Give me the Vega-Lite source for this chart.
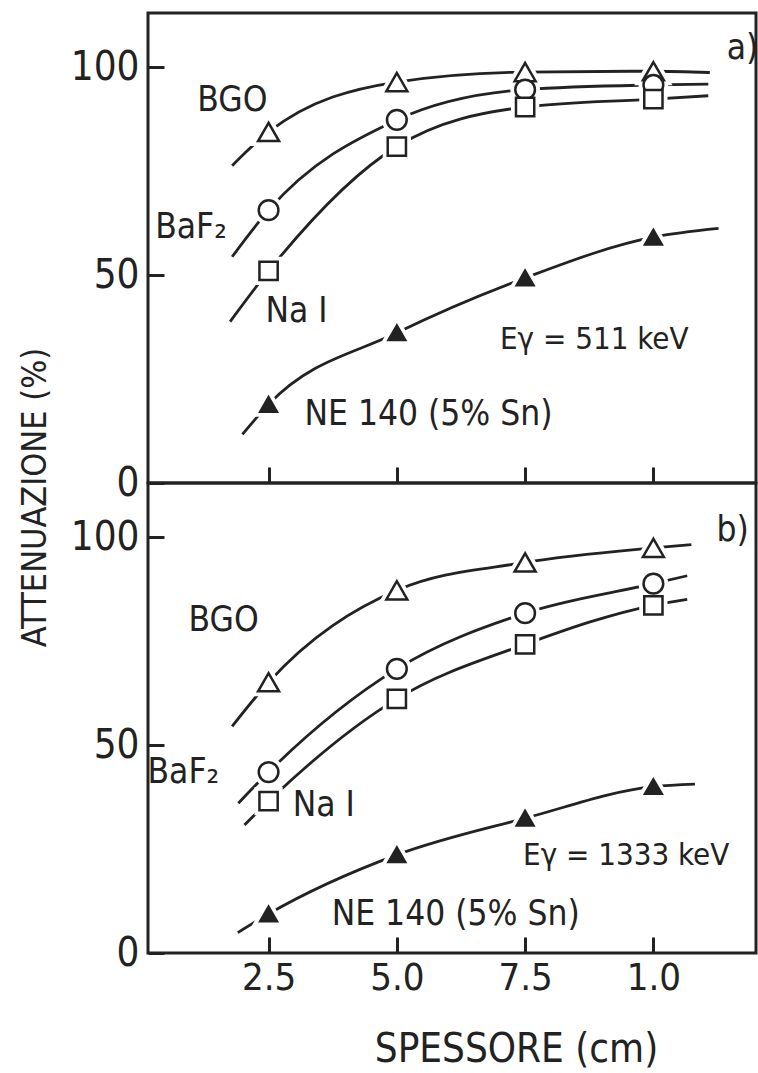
{
  "$schema": "https://vega.github.io/schema/vega-lite/v6.json",
  "padding": {"left": 16, "top": 11, "right": 3, "bottom": 0},
  "background": "white",
  "bounds": "flush",
  "spacing": 0,
  "config": {
    "font": "DejaVu Sans Condensed, DejaVu Sans, sans-serif",
    "view": {"stroke": "#222", "strokeWidth": 3},
    "axis": {
      "domain": false,
      "grid": false,
      "tickColor": "#222",
      "tickWidth": 3,
      "tickSize": -16,
      "labelFont": "DejaVu Sans Condensed, DejaVu Sans, sans-serif",
      "labelFontSize": 40,
      "labelColor": "#222",
      "titleFont": "DejaVu Sans Condensed, DejaVu Sans, sans-serif",
      "titleFontSize": 34,
      "titleFontWeight": "normal",
      "titleColor": "#222"
    },
    "text": {"font": "DejaVu Sans Condensed, DejaVu Sans, sans-serif", "fontSize": 35, "color": "#222"}
  },
  "datasets": {
    "curves": [
      {"panel": "a", "series": "BGO", "x": 1.79, "y": 76.3},
      {"panel": "a", "series": "BGO", "x": 2.5, "y": 84.4},
      {"panel": "a", "series": "BGO", "x": 5.0, "y": 96.4},
      {"panel": "a", "series": "BGO", "x": 7.5, "y": 98.8},
      {"panel": "a", "series": "BGO", "x": 10.0, "y": 99.0},
      {"panel": "a", "series": "BGO", "x": 11.1, "y": 98.7},
      {"panel": "a", "series": "BaF2", "x": 1.79, "y": 54.4},
      {"panel": "a", "series": "BaF2", "x": 2.5, "y": 65.6},
      {"panel": "a", "series": "BaF2", "x": 5.0, "y": 87.3},
      {"panel": "a", "series": "BaF2", "x": 7.5, "y": 94.6},
      {"panel": "a", "series": "BaF2", "x": 10.0, "y": 95.7},
      {"panel": "a", "series": "BaF2", "x": 11.07, "y": 95.9},
      {"panel": "a", "series": "NaI", "x": 1.75, "y": 38.8},
      {"panel": "a", "series": "NaI", "x": 2.5, "y": 51.0},
      {"panel": "a", "series": "NaI", "x": 5.0, "y": 80.9},
      {"panel": "a", "series": "NaI", "x": 7.5, "y": 90.4},
      {"panel": "a", "series": "NaI", "x": 10.0, "y": 92.3},
      {"panel": "a", "series": "NaI", "x": 11.07, "y": 93.1},
      {"panel": "a", "series": "NE140", "x": 1.99, "y": 11.7},
      {"panel": "a", "series": "NE140", "x": 2.5, "y": 18.9},
      {"panel": "a", "series": "NE140", "x": 5.0, "y": 36.1},
      {"panel": "a", "series": "NE140", "x": 7.5, "y": 49.3},
      {"panel": "a", "series": "NE140", "x": 10.0, "y": 59.1},
      {"panel": "a", "series": "NE140", "x": 11.27, "y": 61.2},
      {"panel": "b", "series": "BGO", "x": 1.79, "y": 54.5},
      {"panel": "b", "series": "BGO", "x": 2.5, "y": 65.1},
      {"panel": "b", "series": "BGO", "x": 5.0, "y": 87.2},
      {"panel": "b", "series": "BGO", "x": 7.5, "y": 93.9},
      {"panel": "b", "series": "BGO", "x": 10.0, "y": 97.4},
      {"panel": "b", "series": "BGO", "x": 10.74, "y": 98.2},
      {"panel": "b", "series": "BaF2", "x": 1.91, "y": 36.0},
      {"panel": "b", "series": "BaF2", "x": 2.5, "y": 43.5},
      {"panel": "b", "series": "BaF2", "x": 5.0, "y": 68.3},
      {"panel": "b", "series": "BaF2", "x": 7.5, "y": 81.7},
      {"panel": "b", "series": "BaF2", "x": 10.0, "y": 88.8},
      {"panel": "b", "series": "BaF2", "x": 10.66, "y": 90.7},
      {"panel": "b", "series": "NaI", "x": 2.03, "y": 30.8},
      {"panel": "b", "series": "NaI", "x": 2.5, "y": 36.5},
      {"panel": "b", "series": "NaI", "x": 5.0, "y": 61.1},
      {"panel": "b", "series": "NaI", "x": 7.5, "y": 74.2},
      {"panel": "b", "series": "NaI", "x": 10.0, "y": 83.6},
      {"panel": "b", "series": "NaI", "x": 10.66, "y": 85.0},
      {"panel": "b", "series": "NE140", "x": 1.9, "y": 4.9},
      {"panel": "b", "series": "NE140", "x": 2.5, "y": 9.4},
      {"panel": "b", "series": "NE140", "x": 5.0, "y": 23.6},
      {"panel": "b", "series": "NE140", "x": 7.5, "y": 32.4},
      {"panel": "b", "series": "NE140", "x": 10.0, "y": 40.0},
      {"panel": "b", "series": "NE140", "x": 10.81, "y": 40.6}
    ],
    "points": [
      {"panel": "a", "series": "BGO", "x": 2.5, "y": 84.4},
      {"panel": "a", "series": "BGO", "x": 5.0, "y": 96.4},
      {"panel": "a", "series": "BGO", "x": 7.5, "y": 98.8},
      {"panel": "a", "series": "BGO", "x": 10.0, "y": 99.0},
      {"panel": "a", "series": "BaF2", "x": 2.5, "y": 65.6},
      {"panel": "a", "series": "BaF2", "x": 5.0, "y": 87.3},
      {"panel": "a", "series": "BaF2", "x": 7.5, "y": 94.6},
      {"panel": "a", "series": "BaF2", "x": 10.0, "y": 95.7},
      {"panel": "a", "series": "NaI", "x": 2.5, "y": 51.0},
      {"panel": "a", "series": "NaI", "x": 5.0, "y": 80.9},
      {"panel": "a", "series": "NaI", "x": 7.5, "y": 90.4},
      {"panel": "a", "series": "NaI", "x": 10.0, "y": 92.3},
      {"panel": "a", "series": "NE140", "x": 2.5, "y": 18.9},
      {"panel": "a", "series": "NE140", "x": 5.0, "y": 36.1},
      {"panel": "a", "series": "NE140", "x": 7.5, "y": 49.3},
      {"panel": "a", "series": "NE140", "x": 10.0, "y": 59.1},
      {"panel": "b", "series": "BGO", "x": 2.5, "y": 65.1},
      {"panel": "b", "series": "BGO", "x": 5.0, "y": 87.2},
      {"panel": "b", "series": "BGO", "x": 7.5, "y": 93.9},
      {"panel": "b", "series": "BGO", "x": 10.0, "y": 97.4},
      {"panel": "b", "series": "BaF2", "x": 2.5, "y": 43.5},
      {"panel": "b", "series": "BaF2", "x": 5.0, "y": 68.3},
      {"panel": "b", "series": "BaF2", "x": 7.5, "y": 81.7},
      {"panel": "b", "series": "BaF2", "x": 10.0, "y": 88.8},
      {"panel": "b", "series": "NaI", "x": 2.5, "y": 36.5},
      {"panel": "b", "series": "NaI", "x": 5.0, "y": 61.1},
      {"panel": "b", "series": "NaI", "x": 7.5, "y": 74.2},
      {"panel": "b", "series": "NaI", "x": 10.0, "y": 83.6},
      {"panel": "b", "series": "NE140", "x": 2.5, "y": 9.4},
      {"panel": "b", "series": "NE140", "x": 5.0, "y": 23.6},
      {"panel": "b", "series": "NE140", "x": 7.5, "y": 32.4},
      {"panel": "b", "series": "NE140", "x": 10.0, "y": 40.0}
    ],
    "labels": [
      {"panel": "a", "kind": "name", "x": 1.11, "y": 92.1, "text": "BGO"},
      {"panel": "a", "kind": "name", "x": 0.29, "y": 61.5, "text": "BaF₂"},
      {"panel": "a", "kind": "name", "x": 2.44, "y": 41.4, "text": "Na I"},
      {"panel": "a", "kind": "energy", "x": 7.01, "y": 34.4, "text": "Eγ = 511 keV"},
      {"panel": "a", "kind": "name", "x": 3.2, "y": 16.5, "text": "NE 140 (5% Sn)"},
      {"panel": "a", "kind": "name", "x": 11.43, "y": 104.5, "text": "a)"},
      {"panel": "b", "kind": "name", "x": 0.94, "y": 80.1, "text": "BGO"},
      {"panel": "b", "kind": "name", "x": 0.14, "y": 43.5, "text": "BaF₂"},
      {"panel": "b", "kind": "name", "x": 2.97, "y": 35.6, "text": "Na I"},
      {"panel": "b", "kind": "energy", "x": 7.46, "y": 23.4, "text": "Eγ = 1333 keV"},
      {"panel": "b", "kind": "name", "x": 3.73, "y": 9.3, "text": "NE 140 (5% Sn)"},
      {"panel": "b", "kind": "name", "x": 11.23, "y": 101.7, "text": "b)"}
    ]
  },
  "vconcat": [
    {
      "width": 608,
      "height": 470,
      "encoding": {
        "x": {"field": "x", "type": "quantitative", "scale": {"domain": [0.15, 12], "nice": false, "zero": false},
              "axis": {"values": [2.5, 5, 7.5, 10], "labels": false, "title": null}},
        "y": {"field": "y", "type": "quantitative", "scale": {"domain": [0, 113], "nice": false},
              "axis": {"values": [0, 50, 100], "title": "ATTENUAZIONE (%)", "titleY": 484, "labelPadding": 25, "titlePadding": 18}}
      },
      "layer": [
        {"data": {"name": "curves"}, "transform": [{"filter": "datum.panel === 'a'"}],
         "mark": {"type": "line", "interpolate": "monotone", "color": "#222", "strokeWidth": 2.8},
         "encoding": {"detail": {"field": "series"}}},
        {"data": {"name": "points"}, "transform": [{"filter": "datum.panel === 'a'"}],
         "mark": {"type": "point", "filled": true, "fill": "white", "stroke": "white", "strokeWidth": 10, "opacity": 1},
         "encoding": {
           "shape": {"field": "series", "scale": {"domain": ["BGO", "BaF2", "NaI", "NE140"], "range": ["triangle-up", "circle", "square", "triangle-up"]}, "legend": null},
           "size": {"field": "series", "scale": {"domain": ["BGO", "BaF2", "NaI", "NE140"], "range": [440, 280, 280, 440]}, "legend": null}
         }},
        {"data": {"name": "points"}, "transform": [{"filter": "datum.panel === 'a'"}],
         "mark": {"type": "point", "stroke": "#222", "strokeWidth": 2.5, "opacity": 1},
         "encoding": {
           "shape": {"field": "series", "scale": {"domain": ["BGO", "BaF2", "NaI", "NE140"], "range": ["triangle-up", "circle", "square", "triangle-up"]}, "legend": null},
           "fill": {"field": "series", "scale": {"domain": ["BGO", "BaF2", "NaI", "NE140"], "range": ["white", "white", "white", "#222"]}, "legend": null},
           "size": {"field": "series", "scale": {"domain": ["BGO", "BaF2", "NaI", "NE140"], "range": [440, 280, 280, 440]}, "legend": null}
         }},
        {"data": {"name": "labels"}, "transform": [{"filter": "datum.panel === 'a' && datum.kind === 'name'"}],
         "mark": {"type": "text", "align": "left", "baseline": "middle"},
         "encoding": {"text": {"field": "text"}}},
        {"data": {"name": "labels"}, "transform": [{"filter": "datum.panel === 'a' && datum.kind === 'energy'"}],
         "mark": {"type": "text", "align": "left", "baseline": "middle", "fontSize": 31},
         "encoding": {"text": {"field": "text"}}}
      ]
    },
    {
      "width": 608,
      "height": 470,
      "encoding": {
        "x": {"field": "x", "type": "quantitative", "scale": {"domain": [0.15, 12], "nice": false, "zero": false},
              "axis": {"values": [2.5, 5, 7.5, 10], "title": "SPESSORE (cm)", "titleFontSize": 40, "titleX": 368, "titleAlign": "center", "labelFontSize": 38, "labelPadding": 22, "titlePadding": 32,
                       "labelExpr": "datum.value == 10 ? '1.0' : format(datum.value, '.1f')"}},
        "y": {"field": "y", "type": "quantitative", "scale": {"domain": [0, 113], "nice": false},
              "axis": {"values": [0, 50, 100], "title": null, "labelPadding": 25}}
      },
      "layer": [
        {"data": {"name": "curves"}, "transform": [{"filter": "datum.panel === 'b'"}],
         "mark": {"type": "line", "interpolate": "monotone", "color": "#222", "strokeWidth": 2.8},
         "encoding": {"detail": {"field": "series"}}},
        {"data": {"name": "points"}, "transform": [{"filter": "datum.panel === 'b'"}],
         "mark": {"type": "point", "filled": true, "fill": "white", "stroke": "white", "strokeWidth": 10, "opacity": 1},
         "encoding": {
           "shape": {"field": "series", "scale": {"domain": ["BGO", "BaF2", "NaI", "NE140"], "range": ["triangle-up", "circle", "square", "triangle-up"]}, "legend": null},
           "size": {"field": "series", "scale": {"domain": ["BGO", "BaF2", "NaI", "NE140"], "range": [440, 280, 280, 440]}, "legend": null}
         }},
        {"data": {"name": "points"}, "transform": [{"filter": "datum.panel === 'b'"}],
         "mark": {"type": "point", "stroke": "#222", "strokeWidth": 2.5, "opacity": 1},
         "encoding": {
           "shape": {"field": "series", "scale": {"domain": ["BGO", "BaF2", "NaI", "NE140"], "range": ["triangle-up", "circle", "square", "triangle-up"]}, "legend": null},
           "fill": {"field": "series", "scale": {"domain": ["BGO", "BaF2", "NaI", "NE140"], "range": ["white", "white", "white", "#222"]}, "legend": null},
           "size": {"field": "series", "scale": {"domain": ["BGO", "BaF2", "NaI", "NE140"], "range": [440, 280, 280, 440]}, "legend": null}
         }},
        {"data": {"name": "labels"}, "transform": [{"filter": "datum.panel === 'b' && datum.kind === 'name'"}],
         "mark": {"type": "text", "align": "left", "baseline": "middle"},
         "encoding": {"text": {"field": "text"}}},
        {"data": {"name": "labels"}, "transform": [{"filter": "datum.panel === 'b' && datum.kind === 'energy'"}],
         "mark": {"type": "text", "align": "left", "baseline": "middle", "fontSize": 31},
         "encoding": {"text": {"field": "text"}}}
      ]
    }
  ]
}
